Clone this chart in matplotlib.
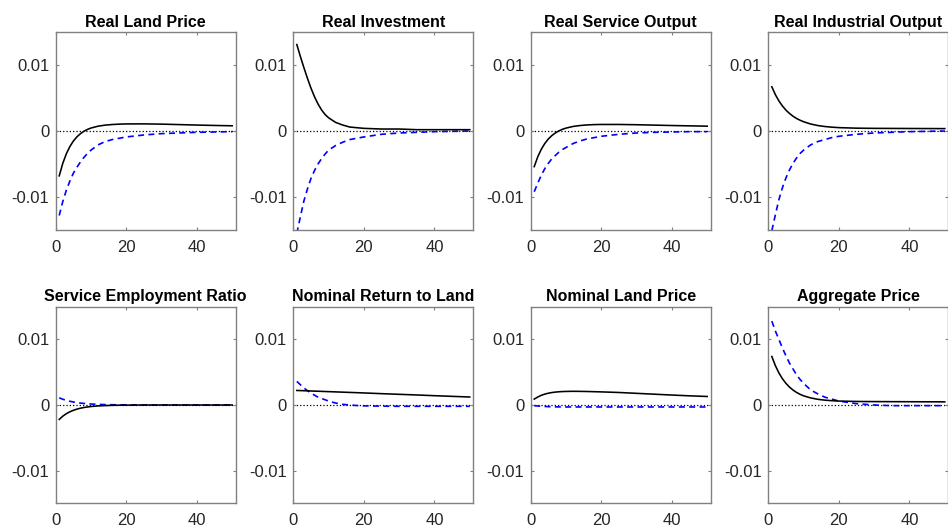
import matplotlib
matplotlib.use("Agg")
import matplotlib.pyplot as plt

plt.rcParams['font.family'] = ['Liberation Sans', 'DejaVu Sans']

# Time points (quarters) at which the responses were read
t = [1, 2, 3, 4, 5, 6, 7, 8, 9, 10, 12, 14, 16, 18, 20, 25, 30, 35, 40, 45, 50]

titles = ["Real Land Price", "Real Investment", "Real Service Output", "Real Industrial Output",
          "Service Employment Ratio", "Nominal Return to Land", "Nominal Land Price", "Aggregate Price"]

# Black solid responses
land_price_black = [-0.0068, -0.00491, -0.00347, -0.00237, -0.00153, -0.00089, -0.00041, -0.00004, 0.00024, 0.00045,
                    0.00073, 0.00089, 0.00098, 0.00104, 0.00107, 0.00108, 0.00104, 0.00097, 0.00090, 0.00084, 0.00079]
investment_black = [0.0131, 0.0113, 0.0096, 0.0080, 0.0065, 0.0052, 0.0041, 0.0032, 0.0025, 0.0020,
                    0.0013, 0.0009, 0.0006, 0.0005, 0.0004, 0.0003, 0.0003, 0.0002, 0.0002, 0.0002, 0.0002]
service_out_black = [-0.0054, -0.00391, -0.00277, -0.00189, -0.00121, -0.00069, -0.00029, 0.00002, 0.00026, 0.00044,
                     0.00069, 0.00083, 0.00092, 0.00097, 0.00099, 0.00099, 0.00095, 0.00089, 0.00083, 0.00078, 0.00073]
industrial_black = [0.0067, 0.00551, 0.00456, 0.00379, 0.00316, 0.00266, 0.00224, 0.00190, 0.00163, 0.00140,
                    0.00106, 0.00083, 0.00068, 0.00058, 0.00051, 0.00043, 0.00040, 0.00039, 0.00038, 0.00037, 0.00036]
employment_black = [-0.0022, -0.00171, -0.00133, -0.00104, -0.00081, -0.00063, -0.00049, -0.00038, -0.00030, -0.00023,
                    -0.00014, -0.00009, -0.00005, -0.00003, -0.00002, 0.0, 0.0, 0.0, 0.0, 0.0, 0.0]
return_black = [0.00222, 0.00220, 0.00218, 0.00216, 0.00214, 0.00212, 0.00210, 0.00208, 0.00206, 0.00204,
                0.00200, 0.00196, 0.00192, 0.00188, 0.00184, 0.00173, 0.00163, 0.00153, 0.00142, 0.00132, 0.00122]
nominal_land_black = [0.0009, 0.00122, 0.00148, 0.00166, 0.00180, 0.00190, 0.00197, 0.00202, 0.00205, 0.00207,
                      0.00209, 0.00208, 0.00206, 0.00203, 0.00200, 0.00191, 0.00178, 0.00165, 0.00152, 0.00140, 0.00130]
agg_price_black = [0.0074, 0.00601, 0.00490, 0.00401, 0.00330, 0.00274, 0.00228, 0.00192, 0.00163, 0.00140,
                   0.00108, 0.00087, 0.00074, 0.00066, 0.00060, 0.00054, 0.00052, 0.00051, 0.00050, 0.00049, 0.00048]

# Blue dashed responses
land_price_blue = [-0.0128, -0.0107, -0.0090, -0.0076, -0.0064, -0.0055, -0.0047, -0.0040, -0.0034, -0.0029,
                   -0.0021, -0.0016, -0.0013, -0.0011, -0.0009, -0.0006, -0.0004, -0.0003, -0.0002, -0.00015, -0.0001]
investment_blue = [-0.0155, -0.0130, -0.0106, -0.0088, -0.0072, -0.0060, -0.0050, -0.0042, -0.0035, -0.0029,
                   -0.0022, -0.0017, -0.0013, -0.0011, -0.0009, -0.0005, -0.0003, -0.0002, -0.0001, -0.00005, 0.0]
service_out_blue = [-0.0092, -0.0079, -0.0067, -0.0057, -0.0049, -0.0042, -0.0037, -0.0032, -0.0028, -0.0025,
                    -0.0019, -0.0015, -0.0012, -0.0010, -0.0008, -0.0005, -0.0003, -0.0002, -0.00015, -0.0001, -0.0001]
industrial_blue = [-0.0151, -0.0127, -0.0104, -0.0086, -0.0071, -0.0059, -0.0049, -0.0041, -0.0034, -0.0029,
                   -0.0021, -0.0016, -0.0013, -0.0010, -0.0008, -0.0005, -0.0003, -0.0002, -0.0001, -0.00005, 0.0]
employment_blue = [0.0011, 0.00088, 0.00071, 0.00057, 0.00046, 0.00037, 0.00029, 0.00024, 0.00019, 0.00015,
                   0.00010, 0.00006, 0.00004, 0.00003, 0.00002, 0.0, 0.0, 0.0, 0.0, 0.0, 0.0]
return_blue = [0.0036, 0.0031, 0.0026, 0.0022, 0.0018, 0.0015, 0.0012, 0.0010, 0.0008, 0.0006,
               0.0003, 0.0001, 0.0, -0.00008, -0.00013, -0.00018, -0.0002, -0.0002, -0.0002, -0.0002, -0.0002]
nominal_land_blue = [-0.0001, -0.00015, -0.0002, -0.00022, -0.00025, -0.00027, -0.00028, -0.00029, -0.0003, -0.0003,
                     -0.0003, -0.0003, -0.0003, -0.0003, -0.0003, -0.0003, -0.0003, -0.0003, -0.0003, -0.0003, -0.0003]
agg_price_blue = [0.0128, 0.0113, 0.0100, 0.0087, 0.0075, 0.0064, 0.0055, 0.0046, 0.0039, 0.0033,
                  0.0023, 0.0017, 0.0012, 0.0009, 0.0006, 0.0002, 0.0, -0.0001, -0.0001, -0.0001, -0.0001]

black_series = [land_price_black, investment_black, service_out_black, industrial_black,
                employment_black, return_black, nominal_land_black, agg_price_black]
blue_series = [land_price_blue, investment_blue, service_out_blue, industrial_blue,
               employment_blue, return_blue, nominal_land_blue, agg_price_blue]

xticks = [0, 20, 40]
yticks = [-0.01, 0, 0.01]
yticklabels = ["-0.01", "0", "0.01"]

W, H = 948, 529
fig = plt.figure(figsize=(W / 100, H / 100), dpi=100)

col_left = [55.7, 293.3, 530.7, 768.3]
row_top = [32.0, 306.7]
row_bot = [230.0, 503.3]
ax_w = 180.0

spine_col = '#808080'
for i in range(8):
    r, c = divmod(i, 4)
    left = col_left[c] / W
    bottom = 1 - row_bot[r] / H
    height = (row_bot[r] - row_top[r]) / H
    ax = fig.add_axes([left, bottom, ax_w / W, height])
    ax.axhline(0, color='black', linestyle=':', linewidth=0.9, zorder=1)
    ax.plot(t, black_series[i], color='black', linewidth=1.15, zorder=3)
    ax.plot(t, blue_series[i], color='blue', linewidth=1.2, linestyle='--', dashes=(3.6, 2.6), zorder=2)
    ax.set_xlim(0, 51)
    ax.set_ylim(-0.015, 0.015)
    ax.set_xticks(xticks)
    ax.set_yticks(yticks)
    ax.set_yticklabels(yticklabels)
    ax.tick_params(direction='in', length=2.5, width=0.8, color=spine_col,
                   top=True, right=True, labelsize=12, labelcolor='#262626')
    ax.tick_params(axis='x', pad=7)
    ax.tick_params(axis='y', pad=4.5)
    for sp in ax.spines.values():
        sp.set_color(spine_col)
        sp.set_linewidth(1.0)
    ax.set_title(titles[i], fontsize=11.5, fontweight='bold', pad=3.8)

fig.savefig("out.png", dpi=100)
